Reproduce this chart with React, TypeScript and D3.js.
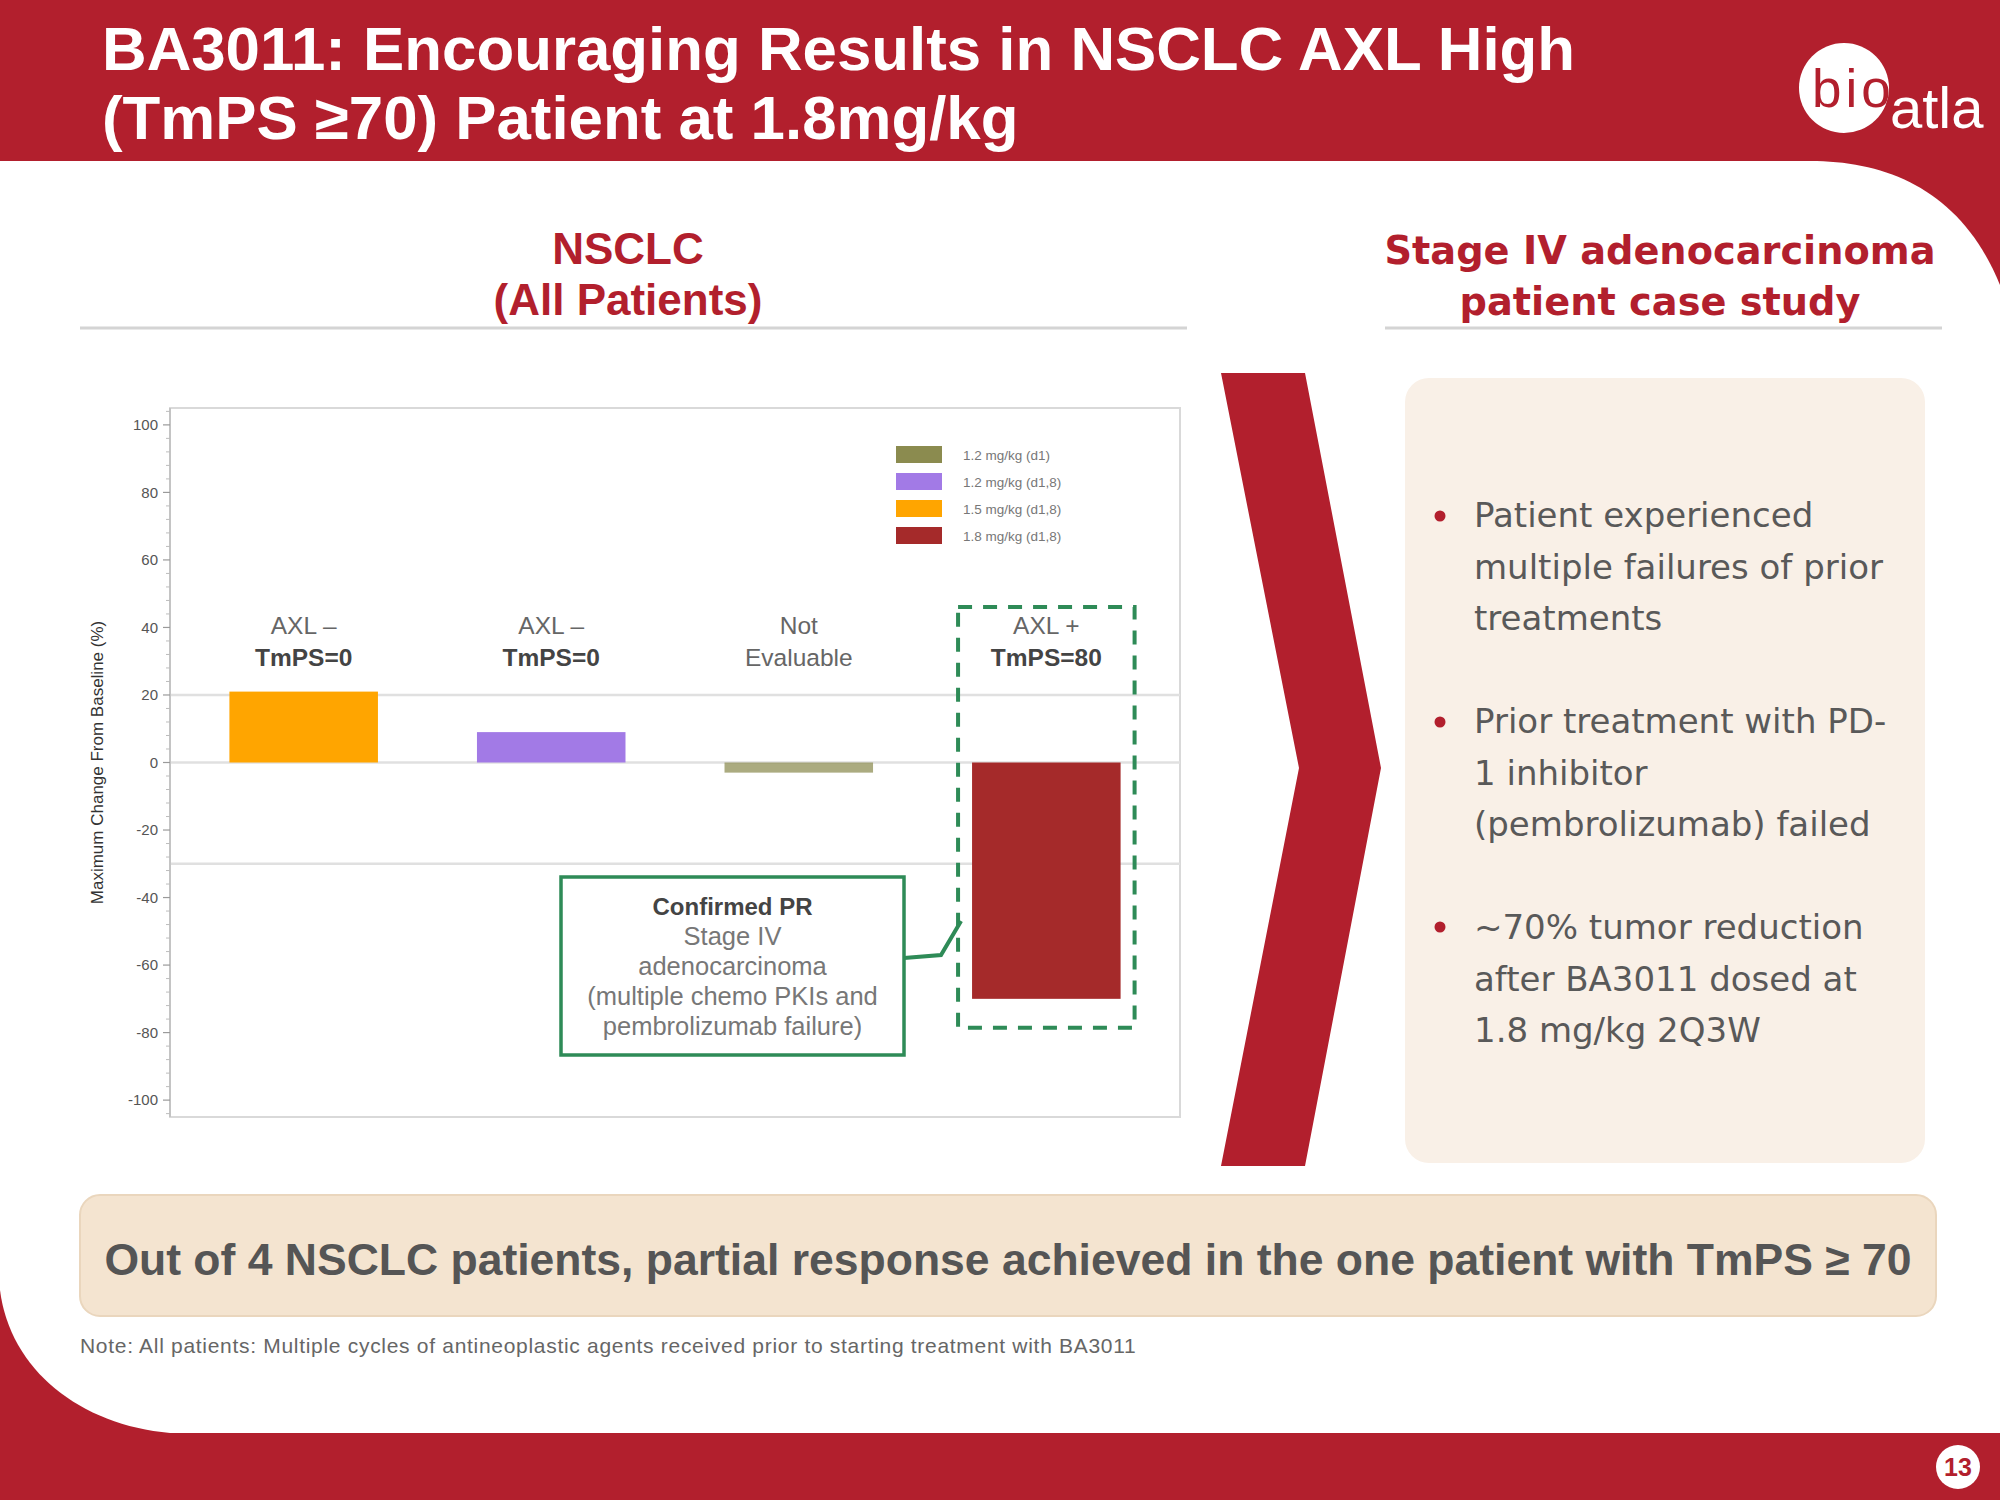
import React from "react";
import * as d3 from "d3";

// ---------- data ----------
const categories = ["P1", "P2", "P3", "P4"];
const barValues = [21, 9, -3, -70];
const labelTop = ["AXL \u2013", "AXL \u2013", "Not", "AXL +"];
const labelBottom = ["TmPS=0", "TmPS=0", "Evaluable", "TmPS=80"];
const bottomBold = [true, true, false, true];
const doseLabels = ["1.2 mg/kg (d1)", "1.2 mg/kg (d1,8)", "1.5 mg/kg (d1,8)", "1.8 mg/kg (d1,8)"];
const barDose = [2, 1, 0, 3];
const yTicks = [100, 80, 60, 40, 20, 0, -20, -40, -60, -80, -100];
const refLines = [20, 0, -30];
const calloutLines = ["Confirmed PR", "Stage IV", "adenocarcinoma", "(multiple chemo PKIs and", "pembrolizumab failure)"];
const bullets = [
  ["Patient experienced", "multiple failures of prior", "treatments"],
  ["Prior treatment with PD-", "1 inhibitor", "(pembrolizumab) failed"],
  ["~70% tumor reduction", "after BA3011 dosed at", "1.8 mg/kg 2Q3W"],
];
const titleLines = ["BA3011: Encouraging Results in NSCLC AXL High", "(TmPS \u226570) Patient at 1.8mg/kg"];
const summary = "Out of 4 NSCLC patients, partial response achieved in the one patient with TmPS \u2265 70";
const note = "Note: All patients: Multiple cycles of antineoplastic agents received prior to starting treatment with BA3011";

// ---------- styles ----------
const RED = "#B21F2D";
const doseColors = ["#8B8B4F", "#A27AE6", "#FFA500", "#A52A2A"];
const barOpacity = [1, 1, 0.72, 1];
const GREEN = "#2E8B57";
const SANS = "'Liberation Sans', Arial, sans-serif";
const WIDE = "'DejaVu Sans', Verdana, sans-serif";

export default function App() {
  const W = 2000, H = 1500;
  const plot = { left: 170, right: 1180, top: 408, bottom: 1117 };
  const y = d3.scaleLinear().domain([-105, 105]).range([plot.bottom, plot.top]);
  const x = d3.scaleBand<string>().domain(categories).range([plot.left, plot.right]).paddingInner(0.4).paddingOuter(0.24);
  const bw = x.bandwidth();
  const minorTicks = d3.range(-104, 105, 4).filter((v) => v % 20 !== 0);

  const hlX = x(categories[3])!;
  const dashBox = { x: hlX - 14, y: 607, w: bw + 28, h: y(barValues[3]) + 29 - 607 };
  const callout = { x: 561, y: 877, w: 343, h: 178 };

  const chevron = d3.line()([
    [1221, 373], [1305, 373], [1381, 768], [1305, 1166], [1221, 1166], [1299, 768],
  ]) + "Z";

  return (
    <svg width={W} height={H} style={{ position: "absolute", left: 0, top: 0 }} xmlns="http://www.w3.org/2000/svg">
      {/* background */}
      <rect x={0} y={0} width={W} height={H} fill={RED} />
      <path
        d="M0 161 L1810 161 C1890 161 1962 192 2000 285 L2000 1433 L170 1433 C80 1425 10 1370 0 1290 Z"
        fill="#ffffff"
      />

      {/* title */}
      {titleLines.map((t, i) => (
        <text key={i} x={102} y={70 + i * 69} fill="#fff" fontFamily={SANS} fontWeight="bold" fontSize={61.8}>
          {t}
        </text>
      ))}

      {/* logo */}
      <circle cx={1844} cy={88} r={45} fill="#fff" />
      <clipPath id="logoClip">
        <circle cx={1844} cy={88} r={45} />
      </clipPath>
      <text x={1812} y={107} fill={RED} fontFamily={SANS} fontSize={53} letterSpacing={4} clipPath="url(#logoClip)">bio</text>
      <text x={1890} y={128} fill="#fff" fontFamily={SANS} fontSize={58}>atla</text>

      {/* left heading */}
      <text x={628} y={264} textAnchor="middle" fill={RED} fontFamily={SANS} fontWeight="bold" fontSize={44}>NSCLC</text>
      <text x={628} y={315} textAnchor="middle" fill={RED} fontFamily={SANS} fontWeight="bold" fontSize={44}>(All Patients)</text>
      <line x1={80} x2={1187} y1={328} y2={328} stroke="#d4d4d4" strokeWidth={3} />

      {/* right heading */}
      <text x={1660} y={264} textAnchor="middle" fill={RED} fontFamily={WIDE} fontWeight="bold" fontSize={38.3}>Stage IV adenocarcinoma</text>
      <text x={1660} y={315} textAnchor="middle" fill={RED} fontFamily={WIDE} fontWeight="bold" fontSize={38.3}>patient case study</text>
      <line x1={1385} x2={1942} y1={328} y2={328} stroke="#d4d4d4" strokeWidth={3} />

      {/* chart frame */}
      <rect x={plot.left} y={plot.top} width={plot.right - plot.left} height={plot.bottom - plot.top} fill="#fff" stroke="#d9d9d9" strokeWidth={2} />
      {refLines.map((v) => (
        <line key={v} x1={plot.left} x2={plot.right} y1={y(v)} y2={y(v)} stroke="#e0e0e0" strokeWidth={2.5} />
      ))}

      {/* y axis */}
      <line x1={plot.left} x2={plot.left} y1={plot.top} y2={plot.bottom} stroke="#bdbdbd" strokeWidth={1.5} />
      {minorTicks.map((v) => (
        <line key={"m" + v} x1={plot.left - 4} x2={plot.left} y1={y(v)} y2={y(v)} stroke="#bdbdbd" strokeWidth={1} />
      ))}
      {yTicks.map((v) => (
        <g key={v}>
          <line x1={plot.left - 7} x2={plot.left} y1={y(v)} y2={y(v)} stroke="#9a9a9a" strokeWidth={1.2} />
          <text x={plot.left - 12} y={y(v)} dy="0.35em" textAnchor="end" fill="#555" fontFamily={SANS} fontSize={15}>
            {v}
          </text>
        </g>
      ))}
      <text
        transform={`translate(97, ${(plot.top + plot.bottom) / 2}) rotate(-90)`}
        textAnchor="middle"
        dy="0.35em"
        fill="#333"
        fontFamily={SANS}
        fontSize={17}
      >
        Maximum Change From Baseline (%)
      </text>

      {/* bars */}
      {categories.map((c, i) => {
        const v = barValues[i];
        const y0 = y(Math.max(0, v));
        const h = Math.abs(y(v) - y(0));
        return (
          <rect key={c} x={x(c)} y={y0} width={bw} height={h} fill={doseColors[barDose[i]]} fillOpacity={barOpacity[i]} />
        );
      })}

      {/* bar labels */}
      {categories.map((c, i) => {
        const cx = x(c)! + bw / 2;
        return (
          <g key={"l" + c}>
            <text x={cx} y={634} textAnchor="middle" fill="#666" fontFamily={SANS} fontSize={24.5}>{labelTop[i]}</text>
            <text x={cx} y={666} textAnchor="middle" fill={bottomBold[i] ? "#444" : "#666"} fontFamily={SANS} fontWeight={bottomBold[i] ? "bold" : "normal"} fontSize={24.5}>
              {labelBottom[i]}
            </text>
          </g>
        );
      })}

      {/* legend */}
      {doseLabels.map((d, i) => (
        <g key={d}>
          <rect x={896} y={446 + i * 27} width={46} height={17} fill={doseColors[i]} />
          <text x={963} y={455 + i * 27} dy="0.35em" fill="#777" fontFamily={SANS} fontSize={13.5}>{d}</text>
        </g>
      ))}

      {/* highlight dashed box */}
      <rect x={dashBox.x} y={dashBox.y} width={dashBox.w} height={dashBox.h} fill="none" stroke={GREEN} strokeWidth={4} strokeDasharray="14 11" />

      {/* callout */}
      <rect x={callout.x} y={callout.y} width={callout.w} height={callout.h} fill="#fff" stroke={GREEN} strokeWidth={3.5} />
      <polyline points={`${callout.x + callout.w},958 941,955 ${dashBox.x + 3},921`} fill="none" stroke={GREEN} strokeWidth={4} />
      {calloutLines.map((t, i) => (
        <text
          key={t}
          x={callout.x + callout.w / 2}
          y={915 + i * 30}
          textAnchor="middle"
          fill={i === 0 ? "#444" : "#777"}
          fontWeight={i === 0 ? "bold" : "normal"}
          fontFamily={SANS}
          fontSize={i === 0 ? 24 : 25.5}
        >
          {t}
        </text>
      ))}

      {/* chevron */}
      <path d={chevron} fill={RED} />

      {/* right panel */}
      <rect x={1405} y={378} width={520} height={785} rx={24} fill="#F9F0E7" />
      {bullets.map((lines, bi) => (
        <g key={bi}>
          <circle cx={1440} cy={[516, 722, 927][bi]} r={5.5} fill={RED} />
          {lines.map((t, li) => (
            <text key={li} x={1474} y={[527, 733, 939][bi] + li * 51.5} fill="#595959" fontFamily={WIDE} fontSize={34}>
              {t}
            </text>
          ))}
        </g>
      ))}

      {/* summary box */}
      <rect x={80} y={1195} width={1856} height={121} rx={20} fill="#F4E4D0" stroke="#EAD6BD" strokeWidth={2} />
      <text x={1008} y={1259} dy="0.35em" textAnchor="middle" fill="#555" fontFamily={SANS} fontWeight="bold" fontSize={44.5}>
        {summary}
      </text>

      {/* note */}
      <text x={80} y={1346} dy="0.35em" fill="#666" fontFamily={SANS} fontSize={21} letterSpacing={0.7}>{note}</text>

      {/* page number */}
      <circle cx={1958} cy={1467} r={22} fill="#fff" />
      <text x={1958} y={1467} dy="0.36em" textAnchor="middle" fill={RED} fontFamily={SANS} fontWeight="bold" fontSize={25}>13</text>
    </svg>
  );
}
